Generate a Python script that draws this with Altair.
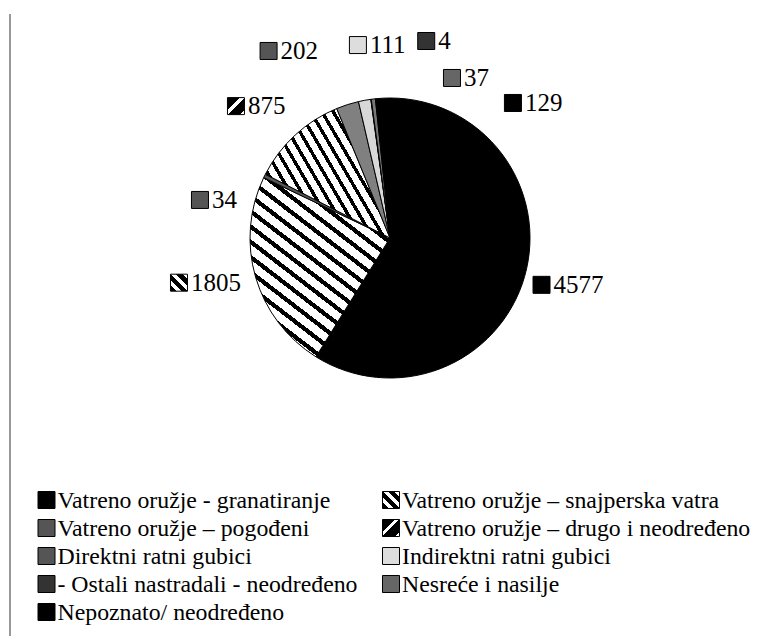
import math
import altair as alt
import pandas as pd

# ---------------- data ----------------
categories = [
    "Vatreno oružje - granatiranje",
    "Vatreno oružje – snajperska vatra",
    "Vatreno oružje – pogođeni",
    "Vatreno oružje – drugo i neodređeno",
    "Direktni ratni gubici",
    "Indirektni ratni gubici",
    "- Ostali nastradali - neodređeno",
    "Nesreće i nasilje",
    "Nepoznato/ neodređeno",
]
values = [4577, 1805, 34, 875, 202, 111, 4, 37, 129]

# ---------------- layout / styling ----------------
# data labels moved like in the original: angular nudge from slice middle, radius (px)
label_nudge_deg = [1.2, 4.3, -15.0, -6.8, -15.3, 1.0, 18.2, 28.0, 45.3]
label_radius = [158.6, 215.7, 193.8, 202.8, 223.0, 195.6, 200.3, 171.6, 182.6]

W, H = 732, 460          # plot area; pie is centred in it
R = 140                  # pie radius
SERIF = "Liberation Serif"
LEG_COL_X = [22.5, 367.0]  # legend key centres (plot px), two columns
LEG_ROW_Y0, LEG_ROW_STEP = 492, 28

total = sum(values)
rows = []
cum = 0.0
for i, (c, v) in enumerate(zip(categories, values)):
    mid = (cum + v / 2.0) / total * 360.0
    cum += v
    a = math.radians(mid + label_nudge_deg[i])
    r = label_radius[i]
    rows.append({
        "cat": c, "value": v, "idx": i, "lab": str(v),
        "lx": r * math.sin(a), "ly": r * math.cos(a),
        # legend grid (row by row, 2 columns), in the same pixel-unit scales
        "gx": LEG_COL_X[i % 2] - W / 2,
        "gy": H / 2 - (LEG_ROW_Y0 + LEG_ROW_STEP * (i // 2)),
    })
df = pd.DataFrame(rows)


def stripes(k_count, x1, y1, x2, y2, dark=0.35):
    stops = []
    for k in range(k_count):
        a = round(k / k_count, 5)
        b = round((k + dark) / k_count, 5)
        c = round((k + 1) / k_count, 5)
        stops += [{"offset": a, "color": "black"}, {"offset": b, "color": "black"},
                  {"offset": b, "color": "white"}, {"offset": c, "color": "white"}]
    return {"gradient": "linear", "x1": x1, "y1": y1, "x2": x2, "y2": y2, "stops": stops}


slice_fill = (
    alt.when(alt.datum.idx == 1).then(alt.value(stripes(16, 0.2, 1.0, 0.8, 0.0)))
    .when(alt.datum.idx == 2).then(alt.value("#555555"))
    .when(alt.datum.idx == 3).then(alt.value(stripes(13, 0.07, 0.76, 0.93, 0.24)))
    .when(alt.datum.idx == 4).then(alt.value("#808080"))
    .when(alt.datum.idx == 5).then(alt.value("#d8d8d8"))
    .when(alt.datum.idx == 6).then(alt.value("#444444"))
    .when(alt.datum.idx == 7).then(alt.value("#777777"))
    .otherwise(alt.value("#000000"))
)

key_fill = (
    alt.when(alt.datum.idx == 1).then(alt.value(stripes(3, 0.0, 1.0, 1.0, 0.0, dark=0.55)))
    .when(alt.datum.idx == 2).then(alt.value("#555555"))
    .when(alt.datum.idx == 3).then(alt.value(stripes(2, 0.0, 0.0, 1.0, 1.0, dark=0.75)))
    .when(alt.datum.idx == 4).then(alt.value("#555555"))
    .when(alt.datum.idx == 5).then(alt.value("#dddddd"))
    .when(alt.datum.idx == 6).then(alt.value("#333333"))
    .when(alt.datum.idx == 7).then(alt.value("#666666"))
    .otherwise(alt.value("#000000"))
)

pie = alt.Chart(df).mark_arc(outerRadius=R, stroke="black", strokeWidth=1).encode(
    theta=alt.Theta("value:Q", stack=True),
    order=alt.Order("idx:Q", sort="ascending"),
    detail=alt.Detail("cat:N"),
    fill=slice_fill,
)

xscale = alt.Scale(domain=[-W / 2, W / 2], nice=False, zero=False)
yscale = alt.Scale(domain=[-H / 2, H / 2], nice=False, zero=False)

label_squares = alt.Chart(df).mark_square(size=289, stroke="black", strokeWidth=1, opacity=1).encode(
    x=alt.X("lx:Q", scale=xscale, axis=None), y=alt.Y("ly:Q", scale=yscale, axis=None), fill=key_fill
)
label_text = alt.Chart(df).mark_text(
    align="left", baseline="middle", dx=12, font=SERIF, fontSize=25, color="black"
).encode(x=alt.X("lx:Q", scale=xscale, axis=None), y=alt.Y("ly:Q", scale=yscale, axis=None), text="lab:N")

legend_keys = alt.Chart(df).mark_square(size=289, stroke="black", strokeWidth=1, opacity=1).encode(
    x=alt.X("gx:Q", scale=xscale, axis=None), y=alt.Y("gy:Q", scale=yscale, axis=None), fill=key_fill
)
legend_text = alt.Chart(df).mark_text(
    align="left", baseline="middle", dx=11, dy=1, font=SERIF, fontSize=23.8, color="black"
).encode(x=alt.X("gx:Q", scale=xscale, axis=None), y=alt.Y("gy:Q", scale=yscale, axis=None), text="cat:N")

one = pd.DataFrame({"k": [0]})
frame_left = alt.Chart(one).mark_rule(color="#555555", strokeWidth=1.2).encode(
    x=alt.value(-14), y=alt.value(6), y2=alt.value(628)
)
frame_top = alt.Chart(one).mark_rule(color="#666666", strokeWidth=1, strokeDash=[70, 12, 40, 20]).encode(
    x=alt.value(-14), x2=alt.value(724), y=alt.value(-2)
)

chart = alt.layer(
    frame_left, frame_top, pie, label_squares, label_text, legend_keys, legend_text
).properties(
    width=W, height=H,
    autosize=alt.AutoSizeParams(type="none"),
    padding={"left": 16, "top": 0, "right": 0, "bottom": 168},
).configure_view(stroke=None)

chart.save("out.html", embed_options={"renderer": "svg", "actions": False})
